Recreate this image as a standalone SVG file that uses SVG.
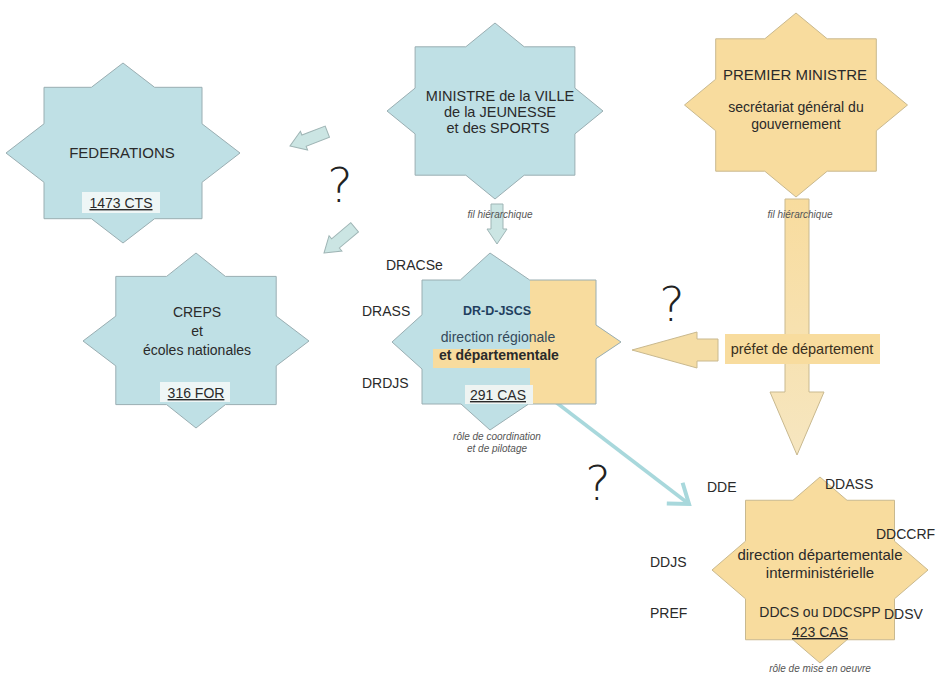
<svg xmlns="http://www.w3.org/2000/svg" width="941" height="675" viewBox="0 0 941 675">
<style>
.t{font-family:"Liberation Sans",Arial,sans-serif;fill:#2a2a2a;text-anchor:middle}
.s14{font-size:14px}
.s15{font-size:15px}
.lab{font-family:"Liberation Sans",Arial,sans-serif;fill:#2a2a2a;font-size:14px}
.it{font-family:"Liberation Sans",Arial,sans-serif;font-style:italic;font-size:10px;fill:#555;text-anchor:middle}
.q{font-family:"DejaVu Sans","Liberation Sans",sans-serif;font-weight:200;font-size:48px;fill:#222;text-anchor:middle}
.blue{fill:#BFE0E5;stroke:#9AAEB2;stroke-width:1}
.yel{fill:#F8DC9E;stroke:#C9B98F;stroke-width:1}
.barrow{fill:#CBE5E3;stroke:#9FB5B5;stroke-width:1}
.box{fill:#EEF6F6}
</style>
<defs>
<path id="ba" d="M0,0 L-15,-10 L-15,-6 L-40,-6 L-40,6 L-15,6 L-15,10 Z"/>
<clipPath id="drclip">
<polygon points="490,253 529.7,280 596,280 596,325 621,342 596,358.7 596,404 528.6,404 490,430 461,404 422,404 422,369 392,342 422,314.8 422,280 460.3,280"/>
</clipPath>
<linearGradient id="shaftg" x1="0" y1="0" x2="0" y2="1">
<stop offset="0" stop-color="#F8DC9E"/><stop offset="1" stop-color="#F6E6C0"/>
</linearGradient>
<marker id="vhead" markerUnits="userSpaceOnUse" markerWidth="30" markerHeight="30" refX="22" refY="15" orient="auto">
<path d="M4,2 L22,15 L4,28" fill="none" stroke="#A8D8DC" stroke-width="4"/>
</marker>
</defs>

<g id="connectors">
<polygon id="arrow-premier" points="785,199 809,199 809,392 824,392 797,455 770,392 785,392" fill="url(#shaftg)" stroke="#C9B98F" stroke-width="1"/>
<polygon id="arrow-prefet" points="632,350 697,332 697,339 718,339 718,361 697,361 697,368" fill="#F5DDA5" stroke="#C9B98F" stroke-width="1"/>
<use href="#ba" class="barrow" transform="translate(497,244) rotate(90)"/>
<use href="#ba" class="barrow" transform="translate(290,146) rotate(159)"/>
<use href="#ba" class="barrow" transform="translate(324,253) rotate(140)"/>
<line x1="553" y1="400" x2="689" y2="504" stroke="#A8D8DC" stroke-width="3.5" marker-end="url(#vhead)"/>
<text class="it" x="500" y="218">fil hiérarchique</text>
<text class="it" x="800" y="218">fil hiérarchique</text>
</g>

<g id="node-federations">
<polygon class="blue" points="123,63 154.6,87.3 202,87.3 202,123.8 240,153 202,182.3 202,218.7 154.6,218.7 123,243 91.4,218.7 44,218.7 44,182.3 6,153 44,123.8 44,87.3 91.4,87.3"/>
<text class="t s15" x="122" y="158">FEDERATIONS</text>
<rect class="box" x="82" y="192" width="78" height="21"/>
<text class="t s14" x="121" y="208" text-decoration="underline">1473 CTS</text>
</g>

<g id="node-creps">
<polygon class="blue" points="196,253 225.4,276.4 276.2,276.4 276.2,316.1 309,341 276.2,365.9 276.2,404.6 225.4,404.6 196,428 166.6,404.6 115.8,404.6 115.8,365.9 83,341 115.8,316.1 115.8,276.4 166.6,276.4"/>
<text class="t s14" x="197" y="317">CREPS</text>
<text class="t s14" x="197" y="336">et</text>
<text class="t s14" x="197" y="355">écoles nationales</text>
<rect class="box" x="160" y="382" width="70" height="20"/>
<text class="t s14" x="196" y="398" text-decoration="underline">316 FOR</text>
</g>

<g id="node-ministre">
<polygon class="blue" points="495,23 524.2,46.8 574.9,46.8 574.9,88.1 603,111 574.9,133.9 574.9,175.2 524.2,175.2 495,199 465.8,175.2 415.1,175.2 415.1,133.9 387,111 415.1,88.1 415.1,46.8 465.8,46.8"/>
<text class="t" x="500" y="101" style="font-size:14.5px">MINISTRE de la VILLE</text>
<text class="t" x="500" y="117" style="font-size:14.5px">de la JEUNESSE</text>
<text class="t" x="498" y="133" style="font-size:14.5px">et des SPORTS</text>
</g>

<g id="node-premier">
<polygon class="yel" points="796,13 827.2,38.8 876.3,38.8 876.3,79.2 907.5,105 876.3,130.8 876.3,171.2 827.2,171.2 796,197 764.8,171.2 715.7,171.2 715.7,130.8 684.5,105 715.7,79.2 715.7,38.8 764.8,38.8"/>
<text class="t s15" x="795" y="80">PREMIER MINISTRE</text>
<text class="t s14" x="796" y="112">secrétariat général du</text>
<text class="t s14" x="796" y="129">gouvernement</text>
</g>

<g id="node-prefet">
<rect x="725" y="334" width="155" height="30" fill="#F8DC9E"/>
<text class="t" x="802" y="354" style="font-size:14.5px;fill:#3a3020">préfet de département</text>
</g>

<g id="node-drdjscs">
<polygon fill="#BFE0E5" points="490,253 529.7,280 596,280 596,325 621,342 596,358.7 596,404 528.6,404 490,430 461,404 422,404 422,369 392,342 422,314.8 422,280 460.3,280"/>
<rect x="530" y="250" width="100" height="190" fill="#F8DC9E" clip-path="url(#drclip)"/>
<rect x="433" y="349" width="97" height="19" fill="#F8DC9E"/>
<polygon fill="none" stroke="#9AAEB2" stroke-width="1" points="490,253 529.7,280 596,280 596,325 621,342 596,358.7 596,404 528.6,404 490,430 461,404 422,404 422,369 392,342 422,314.8 422,280 460.3,280"/>
<text class="t" x="497" y="315" style="font-size:12.5px;font-weight:bold;fill:#1F3F5F">DR-D-JSCS</text>
<text class="t s14" x="498" y="342" style="fill:#34495a">direction régionale</text>
<text class="t s14" x="499" y="360" style="font-weight:bold">et départementale</text>
<rect x="465" y="385" width="68" height="19" fill="#EEF4F2"/>
<text class="t s14" x="498" y="400" text-decoration="underline">291 CAS</text>
<text class="lab" x="386" y="270">DRACSe</text>
<text class="lab" x="362" y="316">DRASS</text>
<text class="lab" x="362" y="388">DRDJS</text>
<text class="it" x="497" y="440">rôle de coordination</text>
<text class="it" x="497" y="452">et de pilotage</text>
</g>

<g id="node-ddi">
<polygon class="yel" points="820,477 847,500.25 894.5,500.25 894.5,541.2 928,570 894.5,598.8 894.5,639.75 847,639.75 820,663 793,639.75 745.5,639.75 745.5,598.8 712,570 745.5,541.2 745.5,500.25 793,500.25"/>
<text class="t s15" x="820" y="560">direction départementale</text>
<text class="t s15" x="820" y="578">interministérielle</text>
<text class="t s14" x="820" y="617">DDCS ou DDCSPP</text>
<text class="t s14" x="820" y="637" text-decoration="underline">423 CAS</text>
<text class="lab" x="707" y="492">DDE</text>
<text class="lab" x="825" y="489">DDASS</text>
<text class="lab" x="876" y="539">DDCCRF</text>
<text class="lab" x="650" y="567">DDJS</text>
<text class="lab" x="650" y="618">PREF</text>
<text class="lab" x="884" y="619">DDSV</text>
<text class="it" x="820" y="672">rôle de mise en oeuvre</text>
</g>

<g id="questions">
<text class="q" x="340" y="202">?</text>
<text class="q" x="672" y="321">?</text>
<text class="q" x="598" y="500">?</text>
</g>
</svg>
